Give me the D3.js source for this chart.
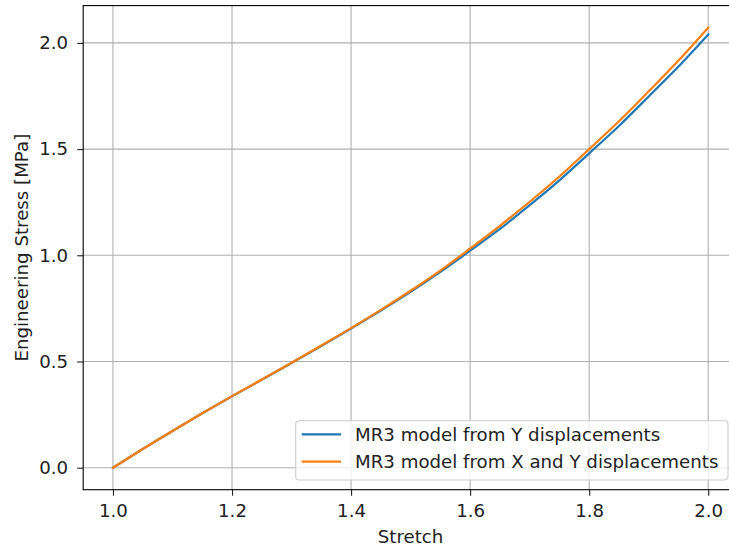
<!DOCTYPE html>
<html>
<head>
<meta charset="utf-8">
<script src="https://cdn.jsdelivr.net/npm/d3@7"></script>
<style>
  html, body { margin: 0; padding: 0; background: #fff; }
  svg { display: block; font-family: "DejaVu Sans", sans-serif; }
</style>
</head>
<body>
<svg id="chart" width="729" height="546"></svg>
<script>
// Stretch samples and engineering stress (MPa) for the two MR3 fits
const stretch = [1.00, 1.05, 1.10, 1.15, 1.20, 1.25, 1.30, 1.35, 1.40, 1.45, 1.50,
                 1.55, 1.60, 1.65, 1.70, 1.75, 1.80, 1.85, 1.90, 1.95, 2.00];
const stressY = [0.000, 0.088, 0.173, 0.256, 0.336, 0.414, 0.493, 0.573, 0.655, 0.740, 0.828,
                 0.922, 1.022, 1.124, 1.236, 1.353, 1.480, 1.609, 1.748, 1.889, 2.040];
const stressXY = [0.000, 0.088, 0.173, 0.256, 0.337, 0.415, 0.494, 0.575, 0.657, 0.743, 0.833,
                  0.928, 1.032, 1.139, 1.252, 1.371, 1.500, 1.631, 1.772, 1.917, 2.072];
const seriesNames = ["MR3 model from Y displacements", "MR3 model from X and Y displacements"];
const seriesColors = ["#1f77b4", "#ff7f0e"];
const xTicks = [1.0, 1.2, 1.4, 1.6, 1.8, 2.0];
const yTicks = [0.0, 0.5, 1.0, 1.5, 2.0];
const xLabel = "Stretch";
const yLabel = "Engineering Stress [MPa]";

const series = [stressY, stressXY].map((vals, i) => ({
  name: seriesNames[i],
  color: seriesColors[i],
  points: stretch.map((s, j) => [s, vals[j]])
}));

const svg = d3.select("#chart");
const plot = { left: 83.2, right: 738, top: 5.6, bottom: 489.7 };
const fontSize = 18.2;
const textColor = "#222";

// Data limits padded by 5% on each side
function padded(lo, hi) { const m = (hi - lo) * 0.05; return [lo - m, hi + m]; }
const allY = stressY.concat(stressXY);
const x = d3.scaleLinear().domain(padded(d3.min(stretch), d3.max(stretch))).range([plot.left, plot.right]);
const y = d3.scaleLinear().domain(padded(d3.min(allY), d3.max(allY))).range([plot.bottom, plot.top]);

// Grid
const grid = svg.append("g").attr("stroke", "#b0b0b0").attr("stroke-width", 1.1);
grid.selectAll(".gx").data(xTicks).join("line")
  .attr("x1", d => x(d)).attr("x2", d => x(d))
  .attr("y1", plot.top).attr("y2", plot.bottom);
grid.selectAll(".gy").data(yTicks).join("line")
  .attr("x1", plot.left).attr("x2", plot.right)
  .attr("y1", d => y(d)).attr("y2", d => y(d));

// Curves
const line = d3.line().x(d => x(d[0])).y(d => y(d[1])).curve(d3.curveMonotoneX);
svg.append("g").selectAll("path").data(series).join("path")
  .attr("fill", "none")
  .attr("stroke", d => d.color)
  .attr("stroke-width", 2.2)
  .attr("stroke-linejoin", "round")
  .attr("stroke-linecap", "square")
  .attr("d", d => line(d.points));

// Axes
const xAxis = svg.append("g").attr("transform", `translate(0,${plot.bottom})`)
  .call(d3.axisBottom(x).tickValues(xTicks).tickFormat(d3.format(".1f")).tickSize(6).tickPadding(8));
const yAxis = svg.append("g").attr("transform", `translate(${plot.left},0)`)
  .call(d3.axisLeft(y).tickValues(yTicks).tickFormat(d3.format(".1f")).tickSize(6).tickPadding(9));
[xAxis, yAxis].forEach(a => {
  a.select(".domain").remove();
  a.selectAll(".tick line").attr("stroke", textColor).attr("stroke-width", 1.1);
  a.selectAll(".tick text").attr("fill", textColor).attr("font-size", fontSize)
    .attr("font-family", "DejaVu Sans");
});

// Spines
const spines = svg.append("g").attr("stroke", "#000").attr("stroke-width", 1.1).attr("fill", "none");
spines.append("rect")
  .attr("x", plot.left).attr("y", plot.top)
  .attr("width", plot.right - plot.left).attr("height", plot.bottom - plot.top);

// Axis titles
svg.append("text")
  .attr("x", (plot.left + plot.right) / 2).attr("y", 543)
  .attr("text-anchor", "middle").attr("font-size", fontSize).attr("fill", textColor)
  .text(xLabel);
svg.append("text")
  .attr("transform", `translate(28.3,${(plot.top + plot.bottom) / 2}) rotate(-90)`)
  .attr("text-anchor", "middle").attr("font-size", fontSize).attr("fill", textColor)
  .text(yLabel);

// Legend
const legend = svg.append("g");
legend.append("rect")
  .attr("x", 295.7).attr("y", 420.7).attr("width", 728 - 295.7).attr("height", 480 - 420.7)
  .attr("rx", 3.5).attr("fill", "#fff").attr("fill-opacity", 0.8)
  .attr("stroke", "#cccccc").attr("stroke-width", 1.1);
const rowY = [434.3, 461.7];
const rows = legend.selectAll(".row").data(series).join("g")
  .attr("transform", (d, i) => `translate(0,${rowY[i]})`);
rows.append("line")
  .attr("x1", 301.7).attr("x2", 341).attr("y1", 0).attr("y2", 0)
  .attr("stroke", d => d.color).attr("stroke-width", 2.2);
rows.append("text")
  .attr("x", 355).attr("y", 6.6)
  .attr("font-size", fontSize).attr("fill", textColor)
  .text(d => d.name);
</script>
</body>
</html>
